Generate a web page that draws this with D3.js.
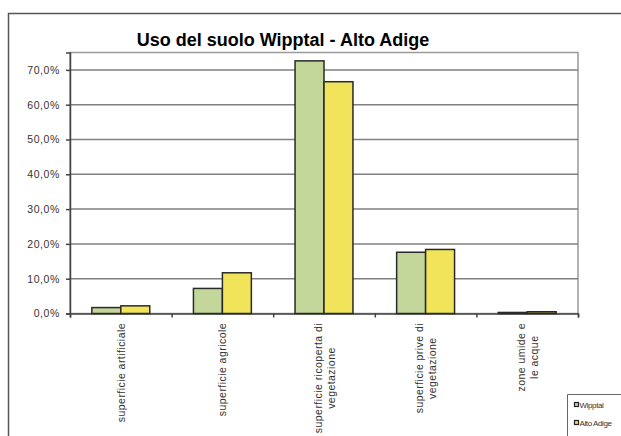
<!DOCTYPE html>
<html>
<head>
<meta charset="utf-8">
<script src="https://cdn.jsdelivr.net/npm/d3@7"></script>
<style>
  html, body { margin: 0; padding: 0; background: #fff; }
  svg { display: block; font-family: "Liberation Sans", Arial, sans-serif; }
</style>
</head>
<body>
<svg id="chart" width="621" height="436"></svg>
<script>
const title = "Uso del suolo Wipptal - Alto Adige";
const categories = [
  ["superficie artificiale"],
  ["superficie agricole"],
  ["superficie ricoperta di", "vegetazione"],
  ["superficie prive di", "vegetazione"],
  ["zone umide e", "le acque"]
];
const seriesNames = ["Wipptal", "Alto Adige"];
const wipptal = [0.017, 0.072, 0.726, 0.176, 0.003];
const altoAdige = [0.022, 0.117, 0.666, 0.184, 0.005];
const yTicks = [0, 0.1, 0.2, 0.3, 0.4, 0.5, 0.6, 0.7];
const yMax = 0.75;
const colors = ["#c4d79b", "#f1e45a"];

const svg = d3.select("#chart");
const pLeft = 70, pRight = 578, pTop = 52.5, pBottom = 313.5;

// outer frame
svg.append("path")
  .attr("d", "M8.5,436 V13.5 H621")
  .attr("fill", "none").attr("stroke", "#555").attr("stroke-width", 1.5);

// title
svg.append("text")
  .attr("x", 283).attr("y", 45.5)
  .attr("text-anchor", "middle")
  .attr("font-size", 18).attr("font-weight", "bold").attr("fill", "#000")
  .text(title);

const y = d3.scaleLinear().domain([0, yMax]).range([pBottom, pTop]);
const idx = categories.map((d, i) => i);
const x = d3.scaleBand().domain(idx).range([pLeft, pRight]).paddingInner(0.43).paddingOuter(0.215);
const xs = d3.scaleBand().domain([0, 1]).range([0, x.bandwidth()]);
const xBound = d3.scaleLinear().domain([0, categories.length]).range([pLeft, pRight]);

// plot border
svg.append("rect")
  .attr("x", pLeft).attr("y", pTop).attr("width", pRight - pLeft).attr("height", pBottom - pTop)
  .attr("fill", "none").attr("stroke", "#9a9a9a").attr("stroke-width", 1.5);

// gridlines
svg.append("g").selectAll("line").data(yTicks.filter(t => t > 0)).join("line")
  .attr("x1", pLeft).attr("x2", pRight)
  .attr("y1", d => y(d)).attr("y2", d => y(d))
  .attr("stroke", "#808080").attr("stroke-width", 1.5);

// y axis
const fmt = d => (d * 100).toFixed(1).replace(".", ",") + "%";
const yAxis = svg.append("g").attr("transform", `translate(${pLeft},0)`)
  .call(d3.axisLeft(y).tickValues(yTicks).tickFormat(fmt).tickSize(4).tickPadding(6));
yAxis.select(".domain").attr("stroke", "#444").attr("stroke-width", 1.5);
yAxis.selectAll(".tick line").attr("stroke", "#444").attr("stroke-width", 1.5);
yAxis.selectAll("text").attr("font-size", 10.5).attr("letter-spacing", 0.6).attr("fill", "#333")
  .attr("font-family", "'Liberation Sans', Arial, sans-serif");

// x axis
const xAxis = svg.append("g").attr("transform", `translate(0,${pBottom})`)
  .call(d3.axisBottom(xBound).tickValues(d3.range(categories.length + 1)).tickFormat("").tickSize(4));
xAxis.select(".domain").attr("stroke", "#444").attr("stroke-width", 1.5);
xAxis.selectAll(".tick line").attr("stroke", "#444").attr("stroke-width", 1.5);

// bars
const data = [wipptal, altoAdige];
data.forEach((vals, s) => {
  svg.append("g").selectAll("rect").data(vals).join("rect")
    .attr("x", (d, i) => x(i) + xs(s))
    .attr("y", d => y(d))
    .attr("width", xs.bandwidth())
    .attr("height", d => pBottom - y(d))
    .attr("fill", colors[s]).attr("stroke", "#2a2a2a").attr("stroke-width", 1.5);
});

// category labels
const lg = svg.append("g");
categories.forEach((lines, i) => {
  const cx = x(i) + x.bandwidth() / 2;
  const g = lg.append("g").attr("transform", `translate(${cx},323) rotate(-90)`);
  const n = lines.length;
  const lh = 13;
  const t = g.append("text").attr("font-size", 10.5).attr("letter-spacing", 0.45)
    .attr("fill", "#333").attr("text-anchor", "middle");
  lines.forEach((l, k) => {
    t.append("tspan").attr("x", 0).attr("y", (k - (n - 1) / 2) * lh + 4).text(l);
  });
  let maxLen = 0;
  t.selectAll("tspan").each(function () { maxLen = Math.max(maxLen, this.getComputedTextLength()); });
  t.selectAll("tspan").attr("x", -maxLen / 2);
});

// legend
const leg = svg.append("g");
leg.append("path").attr("d", "M621,394.5 H567.5 V436")
  .attr("fill", "none").attr("stroke", "#666").attr("stroke-width", 1);
seriesNames.forEach((name, s) => {
  const ly = 405 + s * 18;
  leg.append("rect").attr("x", 574.5).attr("y", ly - 2.5).attr("width", 4).attr("height", 4)
    .attr("fill", colors[s]).attr("stroke", "#222").attr("stroke-width", 1.2);
  leg.append("text").attr("x", 579.5).attr("y", ly + 3)
    .attr("font-size", 8).attr("letter-spacing", -0.4).attr("fill", "#333").text(name);
});
</script>
</body>
</html>
